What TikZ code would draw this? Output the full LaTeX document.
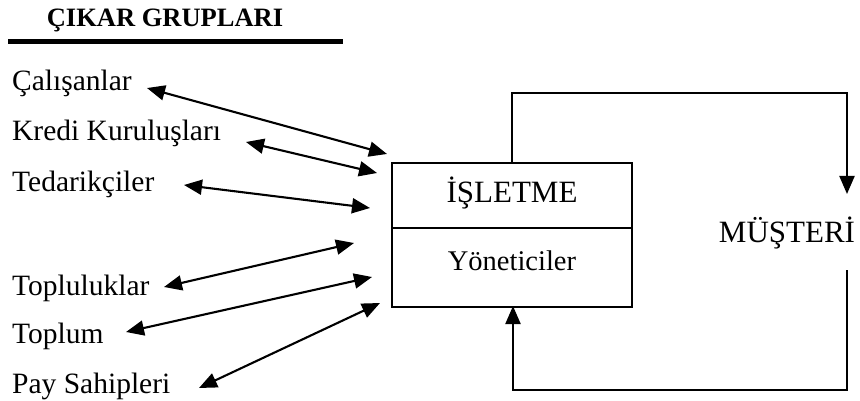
\documentclass[tikz,border=0pt]{standalone}
\usepackage{fontspec}
\setmainfont{Liberation Serif}
\usetikzlibrary{arrows.meta}
\begin{document}
\begin{tikzpicture}[x=1pt,y=-1pt,
  lbl/.style={anchor=base west,inner sep=0pt,font=\fontsize{29.5}{31}\selectfont},
  ctr/.style={anchor=base,inner sep=0pt},
  tip/.tip={Triangle[length=18pt,width=15pt]},
  link/.style={line width=2.1pt,tip-tip},
  flow/.style={line width=2.1pt,-tip},
  plain/.style={line width=2pt}]
\useasboundingbox (0,0) rectangle (860,401);

% heading
\node[ctr,font=\bfseries\fontsize{26.5}{28}\selectfont] (title) at (165,27) {ÇIKAR GRUPLARI};
\draw[line width=5pt] (8,42) -- (343,42);

% stakeholder groups
\node[lbl] (g1) at (12,91)  {Çalışanlar};
\node[lbl] (g2) at (12,141) {Kredi Kuruluşları};
\node[lbl] (g3) at (12,192) {Tedarikçiler};
\node[lbl] (g4) at (12,295) {Topluluklar};
\node[lbl] (g5) at (12,343) {Toplum};
\node[lbl] (g6) at (12,393) {Pay Sahipleri};

% the firm
\draw[plain] (392,163) rectangle (632,307);
\draw[plain] (392,228) -- (632,228);
\coordinate (boxtop) at (512,163);
\coordinate (boxbot) at (513,306);
\node[ctr,font=\fontsize{31}{33}\selectfont] (firm) at (512,203) {İŞLETME};
\node[ctr,font=\fontsize{28.5}{30}\selectfont] (mgr) at (512,270) {Yöneticiler};

% customer
\node[ctr,font=\fontsize{31}{33}\selectfont] (cust) at (787,242) {MÜŞTERİ};

% arrow end points
\coordinate (a1) at (147,88);  \coordinate (b1) at (387,154);
\coordinate (a2) at (246,142); \coordinate (b2) at (377,173);
\coordinate (a3) at (184,185); \coordinate (b3) at (370,208);
\coordinate (a4) at (164,287); \coordinate (b4) at (354,243);
\coordinate (a5) at (126,332); \coordinate (b5) at (372,277);
\coordinate (a6) at (199,388); \coordinate (b6) at (380,303);

\draw[link] (a1) -- (b1);
\draw[link] (a2) -- (b2);
\draw[link] (a3) -- (b3);
\draw[link] (a4) -- (b4);
\draw[link] (a5) -- (b5);
\draw[link] (a6) -- (b6);

% exchange loop with the customer
\coordinate (cin) at (847,194);
\coordinate (cout) at (847,270);
\draw[flow] (boxtop) |- (847,93) -- (cin);
\draw[flow] (cout) -- (847,390) -| (boxbot);
\end{tikzpicture}
\end{document}
